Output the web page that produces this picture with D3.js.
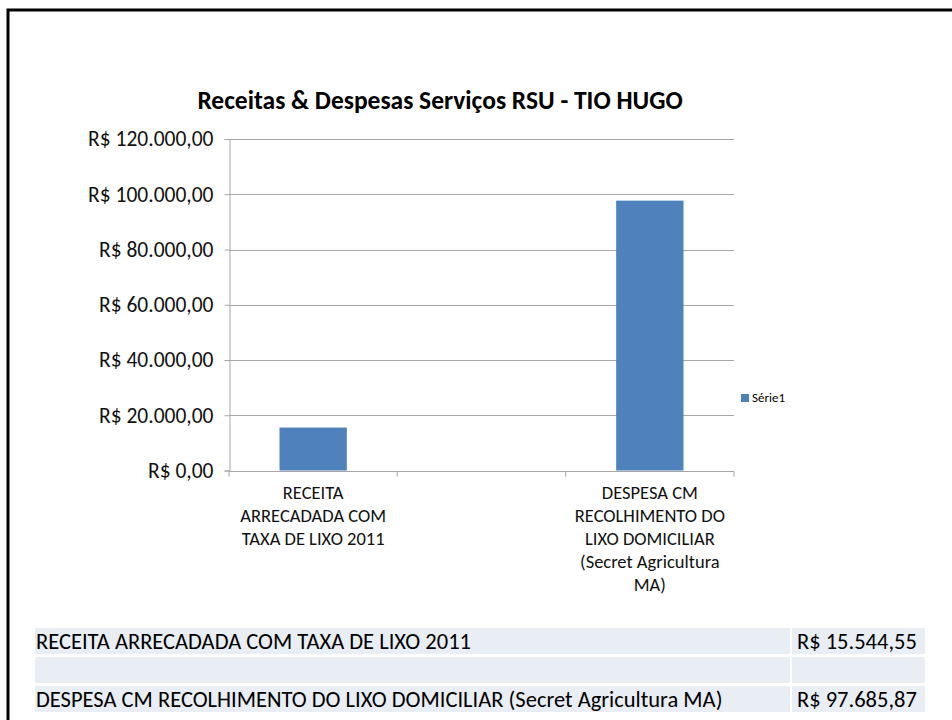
<!DOCTYPE html>
<html>
<head>
<meta charset="utf-8">
<script src="https://cdn.jsdelivr.net/npm/d3@7"></script>
<style>
  html, body { margin: 0; padding: 0; background: #fff; }
  body { width: 952px; height: 720px; overflow: hidden; }
  text { font-family: Carlito, Calibri, Lato, "Liberation Sans", sans-serif; }
</style>
</head>
<body>
<script>
// data
let categories = ["RECEITA ARRECADADA COM TAXA DE LIXO 2011", "", "DESPESA CM RECOLHIMENTO DO LIXO DOMICILIAR (Secret Agricultura MA)"];
let labelLines = [["RECEITA", "ARRECADADA COM", "TAXA DE LIXO 2011"], [], ["DESPESA CM", "RECOLHIMENTO DO", "LIXO DOMICILIAR", "(Secret Agricultura", "MA)"]];
let values = [15544.55, null, 97685.87];
let tableValues = ["R$ 15.544,55", "", "R$ 97.685,87"];
let yTicks = [0, 20000, 40000, 60000, 80000, 100000, 120000];
let seriesName = "Série1";
let title = "Receitas & Despesas Serviços RSU - TIO HUGO";

let width = 952, height = 720;

let svg = d3.select("body")
.append("svg")
.attr("width", width)
.attr("height", height);

svg.append("rect").attr("width", width).attr("height", height).attr("fill", "#fff");

// slide frame (top and left edge only visible)
svg.append("path")
.attr("d", "M8," + height + "V10H" + width)
.attr("fill", "none")
.attr("stroke", "#000")
.attr("stroke-width", 3);

svg.append("text")
.attr("x", 440)
.attr("y", 109)
.attr("text-anchor", "middle")
.attr("font-size", 25.5)
.attr("font-weight", "bold")
.text(title);

let x = d3.scaleBand()
.domain(d3.range(categories.length))
.range([229, 734]);

let y = d3.scaleLinear()
.domain([0, 120000])
.range([470.5, 139]);

let fmt = v => "R$ " + d3.format(",.2f")(v).replace(/,/g, "#").replace(/\./g, ",").replace(/#/g, ".");

// gridlines
svg.append("g")
.selectAll("line")
.data(yTicks.slice(1))
.enter()
.append("line")
.attr("x1", 229).attr("x2", 734)
.attr("y1", d => Math.round(y(d)) + 0.5)
.attr("y2", d => Math.round(y(d)) + 0.5)
.attr("stroke", "#a6a6a6");

// y axis
let yAxis = svg.append("g")
.attr("transform", "translate(229.5,0)")
.call(d3.axisLeft(y).tickValues(yTicks).tickSize(5).tickPadding(11).tickFormat(fmt));
yAxis.select(".domain").attr("stroke", "#a6a6a6");
yAxis.selectAll(".tick line").attr("stroke", "#a6a6a6");
yAxis.selectAll(".tick text").attr("font-size", 21.5).attr("fill", "#111")
.attr("font-family", "Carlito, Calibri, Lato, 'Liberation Sans', sans-serif");

// bars
svg.append("g")
.selectAll("rect")
.data(values)
.enter()
.filter(d => d != null)
.append("rect")
.attr("x", d => x(values.indexOf(d)) + x.bandwidth() * 0.3)
.attr("width", x.bandwidth() * 0.4)
.attr("y", d => y(d))
.attr("height", d => y(0) - y(d))
.attr("fill", "#4f81bd");

// x axis
let xAxis = svg.append("g")
.attr("transform", "translate(0," + (Math.round(y(0)) + 0.5) + ")");
xAxis.append("line")
.attr("x1", 229).attr("x2", 734)
.attr("stroke", "#a6a6a6");
xAxis.selectAll(".xt")
.data(d3.range(categories.length + 1))
.enter()
.append("line")
.attr("x1", i => (i < categories.length ? x(i) : x(categories.length - 1) + x.bandwidth()))
.attr("x2", i => (i < categories.length ? x(i) : x(categories.length - 1) + x.bandwidth()))
.attr("y1", 0).attr("y2", 5)
.attr("stroke", "#a6a6a6");

let xl = svg.append("g")
.selectAll("text")
.data(labelLines)
.enter()
.append("text")
.attr("text-anchor", "middle")
.attr("font-size", 18.5)
.attr("fill", "#111");
xl.each(function(lines, i) {
	d3.select(this).selectAll("tspan")
	.data(lines)
	.enter()
	.append("tspan")
	.attr("x", x(i) + x.bandwidth() / 2)
	.attr("y", (d, j) => 499 + j * 23)
	.text(d => d);
});

// legend
svg.append("rect")
.attr("x", 741).attr("y", 394).attr("width", 8).attr("height", 8)
.attr("fill", "#4f81bd");
svg.append("text")
.attr("x", 752).attr("y", 402)
.attr("font-size", 13)
.text(seriesName);

// table below the chart
let rowY = d3.scaleBand()
.domain(d3.range(categories.length))
.range([628, 712])
.paddingInner(0.1);

let rows = svg.append("g")
.selectAll("g")
.data(categories)
.enter()
.append("g")
.attr("transform", (d, i) => "translate(0," + rowY(i) + ")");

rows.append("rect")
.attr("x", 35).attr("width", 755)
.attr("height", rowY.bandwidth())
.attr("fill", "#e9edf4");
rows.append("rect")
.attr("x", 792).attr("width", 133)
.attr("height", rowY.bandwidth())
.attr("fill", "#e9edf4");
rows.append("text")
.attr("x", 36)
.attr("y", rowY.bandwidth() - 5)
.attr("font-size", 22.5)
.text(d => d);
rows.append("text")
.attr("x", 797)
.attr("y", rowY.bandwidth() - 5)
.attr("font-size", 22.5)
.text((d, i) => tableValues[i]);
</script>
</body>
</html>
